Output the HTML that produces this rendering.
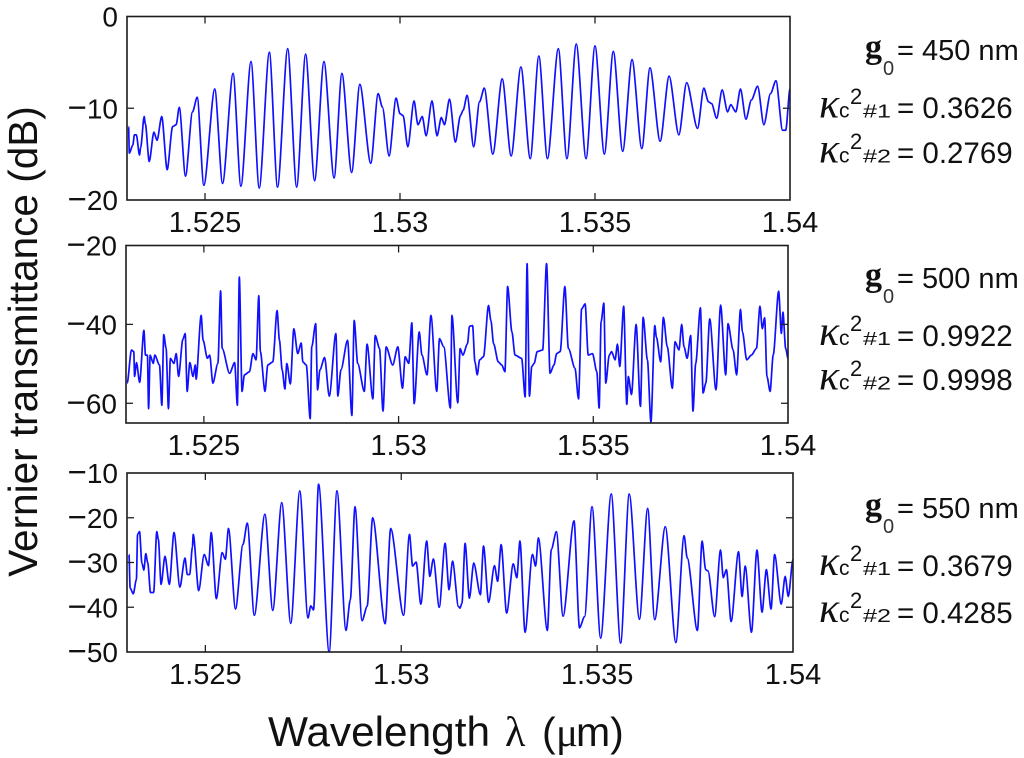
<!DOCTYPE html>
<html lang="en">
<head>
<meta charset="utf-8">
<title>Vernier transmittance spectra</title>
<style>
html,body{margin:0;padding:0;background:#fff;}
svg{display:block;}
text{font-family:"Liberation Sans",sans-serif;fill:#111;}
.tick-x{font-size:29px;}
.tick-y{font-size:28px;}
.axis-title{font-size:40.5px;}
.note{font-size:29.5px;}
.nm{font-size:29px;}
.kappa{font-family:"Liberation Serif",serif;font-style:italic;font-size:42px;}
.g{font-family:"Liberation Serif",serif;font-weight:bold;font-size:34px;}
.zero{font-size:20px;fill:#333;}
.c{font-size:21px;}
.sq{font-size:22px;}
.idx{font-size:18.5px;}
.serif{font-family:"Liberation Serif",serif;}
</style>
</head>
<body>
<svg id="figure" xmlns="http://www.w3.org/2000/svg" width="1024" height="758" viewBox="0 0 1024 758">
  <rect width="1024" height="758" fill="#fff"/>
  <g id="panels"></g>

  <text class="axis-title" transform="translate(37,341.5) rotate(-90)" text-anchor="middle">Vernier transmittance (dB)</text>
  <g>
    <text x="268" y="746" font-size="42" textLength="222" lengthAdjust="spacingAndGlyphs">Wavelength</text>
    <text x="505" y="746" font-size="42" class="serif">λ</text>
    <text x="542" y="746" font-size="41">(</text>
    <text x="556" y="746" font-size="41" class="serif">μ</text>
    <text x="576" y="746" font-size="41">m)</text>
  </g>

  <g>
    <text x="865" y="58" class="g">g</text>
    <text x="883" y="75" class="zero">0</text>
    <text x="897" y="60" class="nm">= 450 nm</text>
  </g>
  <g>
    <text x="819" y="117.5" class="kappa">κ</text>
    <text x="839" y="117.5" class="c">c</text>
    <text x="850" y="104" class="sq">2</text>
    <text x="863" y="117.5" class="idx" textLength="28" lengthAdjust="spacingAndGlyphs">#1</text>
    <text x="897" y="118" class="note">= 0.3626</text>
  </g>
  <g>
    <text x="819" y="162.5" class="kappa">κ</text>
    <text x="839" y="162.5" class="c">c</text>
    <text x="850" y="149" class="sq">2</text>
    <text x="863" y="162.5" class="idx" textLength="28" lengthAdjust="spacingAndGlyphs">#2</text>
    <text x="897" y="163" class="note">= 0.2769</text>
  </g>

  <g>
    <text x="865" y="286" class="g">g</text>
    <text x="883" y="303" class="zero">0</text>
    <text x="897" y="288" class="nm">= 500 nm</text>
  </g>
  <g>
    <text x="819" y="345" class="kappa">κ</text>
    <text x="839" y="345" class="c">c</text>
    <text x="850" y="331" class="sq">2</text>
    <text x="863" y="345" class="idx" textLength="28" lengthAdjust="spacingAndGlyphs">#1</text>
    <text x="897" y="346" class="note">= 0.9922</text>
  </g>
  <g>
    <text x="819" y="389.5" class="kappa">κ</text>
    <text x="839" y="389.5" class="c">c</text>
    <text x="850" y="376" class="sq">2</text>
    <text x="863" y="389.5" class="idx" textLength="28" lengthAdjust="spacingAndGlyphs">#2</text>
    <text x="897" y="390" class="note">= 0.9998</text>
  </g>

  <g>
    <text x="865" y="516" class="g">g</text>
    <text x="883" y="533" class="zero">0</text>
    <text x="897" y="518" class="nm">= 550 nm</text>
  </g>
  <g>
    <text x="819" y="575" class="kappa">κ</text>
    <text x="839" y="575" class="c">c</text>
    <text x="850" y="561" class="sq">2</text>
    <text x="863" y="575" class="idx" textLength="28" lengthAdjust="spacingAndGlyphs">#1</text>
    <text x="897" y="576" class="note">= 0.3679</text>
  </g>
  <g>
    <text x="819" y="622" class="kappa">κ</text>
    <text x="839" y="622" class="c">c</text>
    <text x="850" y="608" class="sq">2</text>
    <text x="863" y="622" class="idx" textLength="28" lengthAdjust="spacingAndGlyphs">#2</text>
    <text x="897" y="623" class="note">= 0.4285</text>
  </g>
</svg>

<script>
const xTicks = [1.525, 1.53, 1.535, 1.54];
const yTicks450 = [0, -10, -20];
const yTicks500 = [-20, -40, -60];
const yTicks550 = [-10, -20, -30, -40, -50];

const wavelengths450 = [
1.52304,1.52306,1.52315,1.52319,1.52324,1.52332,1.52335,1.52344,1.52347,1.52357,
1.52369,1.52377,1.52389,1.52403,1.52417,1.52426,1.52434,1.5245,1.52468,1.5248,
1.52497,1.52525,1.52545,1.52572,1.52592,1.52618,1.52639,1.52665,1.52686,1.52712,
1.52735,1.52758,1.52781,1.52805,1.52831,1.52851,1.52876,1.52897,1.52925,1.52944,
1.52955,1.52972,1.5299,1.53,1.53008,1.5302,1.53036,1.53046,1.53057,1.53067,
1.53082,1.53095,1.53106,1.53114,1.53127,1.53142,1.53155,
1.53162,1.53172,1.53189,1.53204,1.53216,1.53238,1.53262,1.53285,1.5331,1.53334,
1.53356,1.53378,1.53406,1.53428,1.53452,1.53477,1.535,1.53524,1.53547,1.53571,
1.53595,1.5362,1.53641,1.53667,1.5369,1.53715,1.53735,1.53763,1.53779,1.53791,
1.53799,1.53812,1.53826,1.5384,1.53848,1.53861,1.53873,1.53887,1.53901,1.53917,
1.53933,1.5395,1.53964,1.53981,1.53989,1.54];
const transmittance450 = [
-12,-14.9,-14,-12.9,-12.9,-15.1,-14.3,-10.9,-11.7,-15.8,
-12.6,-13.5,-10.9,-16.7,-12,-11.8,-9.9,-17.4,-10.4,-8.8,
-18.4,-7.9,-18.2,-6.2,-18.5,-4.9,-18.7,-3.9,-18.6,-3.5,
-18.6,-4.1,-17.9,-4.9,-17.6,-6.2,-17,-7.4,-16,-8.4,
-9.9,-15.2,-8.9,-10.6,-10.8,-14.2,-9.2,-11.8,-10.9,-13,
-9.2,-13,-11,-11.8,-9,-13.7,-10.8,
-10.2,-8.6,-14.2,-9.3,-7.8,-15,-6.8,-15.2,-5.5,-15.5,
-4.3,-15.5,-3.5,-15.5,-3,-15.5,-3.2,-15,-3.8,-14.7,
-4.7,-14.4,-5.6,-13.6,-6.5,-12.9,-7.2,-12.2,-7.8,-9.3,
-9.5,-11.1,-8,-10.4,-9.6,-10.4,-7.9,-11.2,-9.1,-7.6,
-11.8,-8.4,-7,-12.4,-12.4,-7.9];

const wavelengths500 = [
1.52303,1.52314,1.5232,1.52322,1.52327,1.52335,1.52346,1.5235,1.52355,1.52358,
1.52362,1.5237,1.52374,1.52386,1.52392,1.52397,1.52403,1.52409,1.52414,1.52423,
1.52429,1.52435,1.52446,1.52452,1.52457,1.52464,1.52472,1.52478,1.5248,1.52493,
1.52498,1.52509,1.52515,1.52523,1.52536,1.52543,1.52547,1.52566,1.52579,1.52586,
1.52591,1.52598,1.52604,1.52617,1.52626,1.52634,1.52641,1.52645,1.52657,1.52664,
1.52677,1.52688,1.52694,1.52701,1.52708,1.52713,1.52722,1.52731,1.52741,1.5275,
1.52754,1.52763,1.52773,1.52777,1.52787,1.52792,1.52798,1.5281,1.52822,1.52839,
1.52844,1.52852,1.52869,1.5288,1.52886,1.52895,1.52912,1.52919,1.52934,1.5294,
1.52951,1.5296,1.52968,1.52985,1.52998,1.5301,1.53017,1.53026,1.53034,1.5304,
1.53053,1.5306,1.53073,1.53083,1.53098,1.53105,1.53116,1.53133,1.53137,1.53152,
1.53158,1.53165,1.53177,1.53182,1.5319,1.53196,1.53202,1.53208,1.53218,1.53231,
1.53237,1.53244,1.53256,1.53265,1.53273,1.5328,1.53291,1.53299,1.53316,1.53325,
1.5333,1.53336,1.53342,1.53348,1.53356,1.5337,1.5338,1.53389,1.53399,1.53406,
1.53415,1.53427,1.53436,1.53453,1.53462,1.5347,1.53479,1.53487,1.53498,1.53509,
1.53515,1.5352,1.53527,1.53532,1.53541,1.53547,1.53556,1.53562,1.53568,1.53578,
1.53586,1.5359,1.53598,1.5361,1.53621,1.53628,1.53639,1.53648,1.53658,1.53662,
1.53673,1.5368,1.5369,1.53703,1.5371,1.5372,1.53727,1.53733,1.53741,1.5375,
1.53756,1.53763,1.53775,1.53782,1.53789,1.53799,1.53815,1.53827,1.5384,1.53846,
1.53859,1.53868,1.53878,1.53883,1.53894,1.53906,1.53919,1.53928,1.53934,1.5394,
1.53946,1.53954,1.53962,1.53976,1.53983,1.53987,1.53994,1.54];
const transmittance500 = [
-54.9,-46.5,-46.9,-53.2,-49.7,-54.7,-41.5,-47.8,-47.8,-61.4,
-47.8,-49.9,-47.8,-50.3,-60.5,-42.6,-46.1,-61.4,-48.6,-49.9,
-47.4,-53.2,-43.8,-42.3,-57,-49.7,-53.2,-50.3,-53.9,-37.7,
-44,-48.6,-47.8,-54.9,-49.9,-31.5,-46.1,-52.4,-49.7,-60.5,
-28,-57,-52.8,-52,-47.4,-49,-32.7,-46.9,-57,-50.3,
-49.5,-36.5,-44,-51.5,-56.4,-49.9,-55.1,-41.1,-47.4,-44.7,
-49.5,-50.3,-63.9,-45.7,-39.8,-56.6,-51.5,-48.4,-58.2,-42.3,
-58.2,-51.5,-44,-63.1,-39,-49.9,-57,-45,-58.9,-42.8,
-46.1,-62,-45.7,-50.3,-45.7,-56.2,-48.2,-49.9,-39.6,-60.1,
-41.9,-47.8,-52.8,-37.7,-57,-43.6,-45.7,-61.2,-37.7,-59.9,
-46.1,-47.8,-44.9,-40.5,-40.3,-49.5,-52.8,-49,-48.2,-35.2,
-39,-44.9,-49.5,-50.3,-52,-30.4,-41.9,-47.8,-48.6,-58.4,
-24.6,-58.2,-50.7,-49.9,-46.9,-46.5,-24.6,-52.4,-50.3,-47.4,
-46.9,-30.4,-46.1,-51.1,-58.9,-36.1,-34.8,-47.8,-47.4,-52,
-61.2,-39.4,-34.6,-54.9,-47.8,-46.9,-49,-45,-50.7,-35.4,
-60.3,-53.2,-57.8,-40,-60.8,-38.2,-49,-64.8,-40.3,-43.2,
-49.5,-38.2,-45.7,-56.2,-44.4,-46.5,-40,-45.7,-48.6,-42.8,
-62,-49.9,-35.8,-57.4,-54.9,-38.6,-56.6,-35.1,-52.8,-39.8,
-46.5,-52.8,-36.2,-41.9,-49,-47.8,-46.1,-35.4,-41.1,-38.3,
-53.2,-57,-47.8,-31.6,-42.3,-36.9,-46.1,-48.6];

const wavelengths550 = [
1.52305,1.52308,1.52316,1.52324,1.52327,1.52332,1.52338,1.52343,1.52348,1.52353,
1.5236,1.52368,1.52376,1.5238,1.52387,1.52397,1.52408,1.5242,1.52435,1.52448,
1.52454,1.5246,1.52467,1.52469,1.52483,1.52497,1.52508,1.52515,1.52528,1.52543,
1.52551,1.52559,1.52577,1.52596,1.52607,1.52625,1.52652,1.52672,1.52695,1.52718,
1.52741,1.52762,1.52769,1.52776,1.52789,1.52816,1.52836,1.52859,1.5287,1.52882,
1.529,1.52913,1.52927,1.52959,1.52973,1.53006,1.53021,1.53029,1.53038,1.5305,
1.53065,1.53073,1.53082,1.53097,1.53112,1.53122,1.53131,1.53146,1.5315,
1.53155,1.53163,1.53174,1.53185,1.53202,1.5321,1.53223,1.53238,1.53246,1.53255,
1.53269,1.53286,1.53295,1.53303,1.53316,1.53335,1.53343,1.5335,1.53373,1.53383,
1.53396,1.53413,1.53441,1.53455,1.53468,1.53487,1.53509,1.53536,1.5356,1.53582,
1.53608,1.53629,1.53647,1.53674,1.53701,1.53722,1.5373,1.53756,1.53768,1.53777,
1.53783,1.538,1.53815,1.53822,1.5383,1.53842,1.53861,1.5387,1.53878,1.53894,
1.53908,1.53921,1.53932,1.53944,1.53953,1.5397,1.5398,1.53988,1.54];
const transmittance550 = [
-28.2,-35.7,-37,-33.8,-23.7,-23.1,-30.1,-31.7,-28,-30.1,
-36.7,-36.7,-23.1,-24.8,-34.9,-28.6,-34.9,-23.3,-35.5,-29,
-32.7,-32.7,-26.5,-23.7,-36.3,-28.2,-30.7,-23.3,-38.1,-27.8,
-29.3,-22.4,-40.4,-26,-21.2,-41.8,-19.2,-40.7,-16.6,-43.6,
-14,-42.4,-39.7,-40.6,-12.5,-50,-14,-45.2,-38.3,-17.5,
-43,-39.8,-20,-43.7,-22.4,-41.8,-23.7,-30.8,-29.9,-39.3,
-25.2,-33.1,-29.2,-40,-25.7,-36.1,-29.7,-39.8,-40.2,
-39.1,-25.7,-38,-30.1,-37.2,-26.3,-38.9,-30.7,-34.2,-26,
-41.3,-30.3,-33.4,-25.2,-45.6,-28.2,-30.8,-24.5,-45.2,-27.1,
-23.1,-42,-20.7,-44.6,-42.1,-17.5,-46.9,-14.7,-48,-14.7,
-42.7,-17.9,-42.8,-22,-47.9,-24,-29,-45.2,-25.2,-31.6,
-31.9,-42.1,-27.2,-33.4,-31.6,-43.2,-27.6,-37.6,-30.8,-45.6,
-27.2,-41.1,-31.6,-40.4,-28.2,-39.3,-33.1,-37.6,-29.3];

const NS = 'http://www.w3.org/2000/svg';
const root = document.getElementById('panels');

function make(parent, tag, attrs, text) {
  const el = document.createElementNS(NS, tag);
  for (const k in attrs) el.setAttribute(k, attrs[k]);
  if (text !== undefined) el.textContent = text;
  parent.appendChild(el);
  return el;
}

// Gently rounded path with flat tangents at each vertex.
function curvePath(pts) {
  let d = 'M' + pts[0][0].toFixed(2) + ' ' + pts[0][1].toFixed(2);
  for (let i = 1; i < pts.length; i++) {
    const p = pts[i - 1], q = pts[i], h = (q[0] - p[0]) * 0.28;
    d += 'C' + (p[0] + h).toFixed(2) + ' ' + p[1].toFixed(2) + ' ' + (q[0] - h).toFixed(2) + ' ' + q[1].toFixed(2) + ' ' + q[0].toFixed(2) + ' ' + q[1].toFixed(2);
  }
  return d;
}

function drawPanel(id, box, yDomain, yTicks, xs, ys) {
  const xScale = v => box.left + (v - 1.523) / (1.54 - 1.523) * (box.right - box.left);
  const yScale = v => box.top + (yDomain[1] - v) / (yDomain[1] - yDomain[0]) * (box.bottom - box.top);

  const g = make(root, 'g', {});
  
  

  const clip = make(g, 'clipPath', {id: 'clip-' + id});
  make(clip, 'rect', {x: box.left, y: box.top - 1, width: box.right - box.left, height: box.bottom - box.top + 1});

  const pts = [];
  for (let i = 0; i < xs.length; i++) {
    if (ys[i] === undefined) break;
    pts.push([xScale(xs[i]), yScale(ys[i])]);
  }
  const line = make(g, 'path', {d: curvePath(pts), fill: 'none', stroke: '#1010ff', 'stroke-width': 1.7, 'clip-path': 'url(#clip-' + id + ')'});
  
  

  const frame = make(g, 'rect', {x: box.left, y: box.top, width: box.right - box.left, height: box.bottom - box.top, fill: 'none', stroke: '#1c1c1c', 'stroke-width': 1.6});
  
  

  xTicks.forEach(t => {
    const x = xScale(t);
    if (t < 1.54) {
      const a = make(g, 'line', {x1: x, x2: x, y1: box.bottom, y2: box.bottom - 7, stroke: '#222', 'stroke-width': 1.3});
      
      
      const b = make(g, 'line', {x1: x, x2: x, y1: box.top, y2: box.top + 7, stroke: '#222', 'stroke-width': 1.3});
      
      
    }
    const label = make(g, 'text', {x: x, y: box.bottom + 32, 'text-anchor': 'middle', class: 'tick-x'}, String(t));
    
    
  });

  yTicks.forEach(t => {
    const y = yScale(t);
    if (t > yDomain[0] && t < yDomain[1]) {
      const a = make(g, 'line', {x1: box.left, x2: box.left + 7, y1: y, y2: y, stroke: '#222', 'stroke-width': 1.3});
      
      
      const b = make(g, 'line', {x1: box.right, x2: box.right - 7, y1: y, y2: y, stroke: '#222', 'stroke-width': 1.3});
      
      
    }
    const label = make(g, 'text', {x: box.left - 9, y: y + 10, 'text-anchor': 'end', class: 'tick-y'});
    
    
    if (t < 0) make(label, 'tspan', {'font-size': 33}, '\u2212');
    make(label, 'tspan', {}, String(Math.abs(t)));
  });
}

drawPanel('g0-450', {left: 127, right: 790, top: 16.5, bottom: 200}, [-20, 0], yTicks450, wavelengths450, transmittance450);
drawPanel('g0-500', {left: 126, right: 788, top: 245.5, bottom: 423}, [-65, -20], yTicks500, wavelengths500, transmittance500);
drawPanel('g0-550', {left: 127, right: 793, top: 473, bottom: 652}, [-50, -10], yTicks550, wavelengths550, transmittance550);
</script>
</body>
</html>
